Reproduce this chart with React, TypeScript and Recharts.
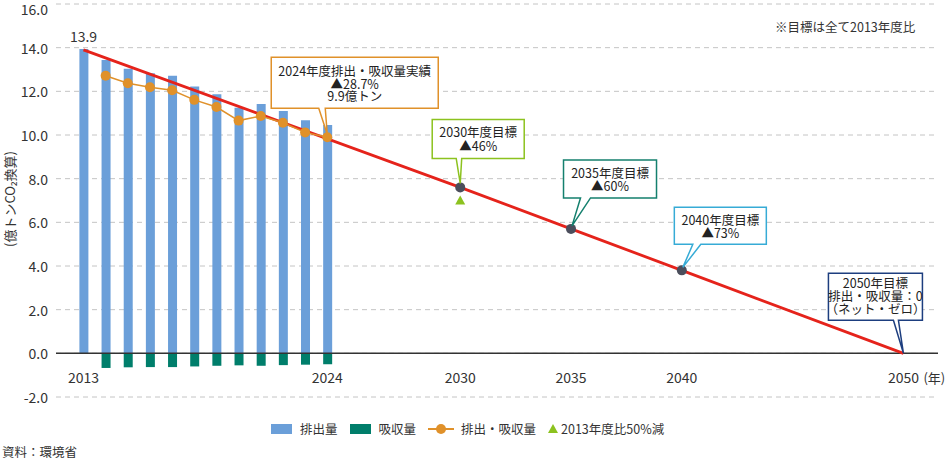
import { ComposedChart, Bar, Line, Scatter, XAxis, YAxis, CartesianGrid, ReferenceLine, ReferenceDot } from 'recharts';

const FONT = '"Noto Sans CJK JP", "Noto Sans", sans-serif';

// 実績（2013〜2024年度）
const ACTUAL_YEARS = [2013, 2014, 2015, 2016, 2017, 2018, 2019, 2020, 2021, 2022, 2023, 2024];
const EMISSIONS = [13.94, 13.43, 13.03, 12.83, 12.71, 12.22, 11.87, 11.25, 11.42, 11.1, 10.67, 10.46];
const REMOVALS = [null, -0.67, -0.64, -0.63, -0.63, -0.6, -0.57, -0.55, -0.57, -0.54, -0.52, -0.5];
const NET = [null, 12.71, 12.37, 12.19, 12.05, 11.61, 11.28, 10.66, 10.87, 10.56, 10.12, 9.9];

// 目標経路
const PATH_YEARS = [2013, 2030, 2035, 2040, 2050];
const PATH = [13.9, 7.6, 5.7, 3.8, 0];
const TARGET_YEARS = [2030, 2035, 2040];
const TARGETS = [7.6, 5.7, 3.8];
const HALF_YEAR = [2030];
const HALF = [7.0];

const X_TICKS = [2013, 2024, 2030, 2035, 2040, 2050];
const Y_TICKS = [-2, 0, 2, 4, 6, 8, 10, 12, 14, 16];

const COLORS = {
  emission: '#6B9FD9',
  removal: '#007E6B',
  net: '#E0912A',
  path: '#E5231B',
  target: '#4B4E5C',
  half: '#8CC21F',
};

const allYears = Array.from(new Set([...ACTUAL_YEARS, ...PATH_YEARS])).sort((a, b) => a - b);
const data = allYears.map((year) => {
  const i = ACTUAL_YEARS.indexOf(year);
  const p = PATH_YEARS.indexOf(year);
  return {
    year,
    emission: i >= 0 ? EMISSIONS[i] : null,
    removal: i >= 0 ? REMOVALS[i] : null,
    net: i >= 0 ? NET[i] : null,
    path: p >= 0 ? PATH[p] : null,
  };
});
const targetData = TARGET_YEARS.map((year, i) => ({ year, v: TARGETS[i] }));
const halfData = HALF_YEAR.map((year, i) => ({ year, v: HALF[i] }));

type Box = { dx: number; dy: number; w: number; h: number; p1: number; p2: number; tx: number; ty: number; rows: number[] };

const CALLOUTS: { year: number; value: number; color: string; lines: string[]; box: Box }[] = [
  {
    year: 2024, value: NET[NET.length - 1] as number, color: '#E0912A',
    lines: ['2024年度排出・吸収量実績', '▲28.7%', '9.9億トン'],
    box: { dx: -56, dy: -80, w: 167, h: 51, p1: -8.5, p2: -2, tx: 0, ty: -3, rows: [13, 26, 38.5] },
  },
  {
    year: 2030, value: TARGETS[0], color: '#8CC21F',
    lines: ['2030年度目標', '▲46%'],
    box: { dx: -28, dy: -68, w: 92, h: 39, p1: -4, p2: 1.5, tx: 0, ty: -4, rows: [12.5, 26.5] },
  },
  {
    year: 2035, value: TARGETS[1], color: '#14806E',
    lines: ['2035年度目標', '▲60%'],
    box: { dx: -7.5, dy: -69, w: 93, h: 38, p1: 9.5, p2: 19.5, tx: 1, ty: -3, rows: [12.5, 26] },
  },
  {
    year: 2040, value: TARGETS[2], color: '#36ABD6',
    lines: ['2040年度目標', '▲73%'],
    box: { dx: -7.5, dy: -63, w: 92, h: 37, p1: 11, p2: 19, tx: 1, ty: -3, rows: [12, 25] },
  },
  {
    year: 2050, value: PATH[PATH.length - 1], color: '#1D3E7F',
    lines: ['2050年目標', '排出・吸収量：0', '（ネット・ゼロ）'],
    box: { dx: -75, dy: -80, w: 94, h: 47, p1: -10, p2: -5, tx: 0, ty: 0, rows: [9.5, 22.5, 35.5] },
  },
];

function Callout({ cx, cy, color, lines, box }: any) {
  const left = cx + box.dx;
  const top = cy + box.dy;
  const bottom = top + box.h;
  const d = `M${left},${top} H${left + box.w} V${bottom} H${cx + box.p2} L${cx + box.tx},${cy + box.ty} L${cx + box.p1},${bottom} H${left} Z`;
  return (
    <g>
      <path d={d} fill="#fff" stroke={color} strokeWidth={1.5} strokeLinejoin="miter" />
      {lines.map((t: string, i: number) => (
        <text
          key={i}
          x={left + box.w / 2}
          y={top + box.rows[i]}
          textAnchor="middle"
          dominantBaseline="central"
          fontSize={12.5}
          fontFamily={FONT}
          fill="#222"
        >
          {t}
        </text>
      ))}
    </g>
  );
}

function YearTick({ x, y, payload }: any) {
  const ty = y - 28;
  return (
    <g>
      <text x={x} y={ty} textAnchor="middle" dominantBaseline="central" fontSize={14} fontFamily={FONT} fill="#333">
        {payload.value}
      </text>
      {payload.value === 2050 && (
        <text x={x + 20} y={ty} textAnchor="start" dominantBaseline="central" fontSize={13} fontFamily={FONT} fill="#333">
          (年)
        </text>
      )}
    </g>
  );
}

function ValueTick({ x, y, payload }: any) {
  // 最上段のラベルが上端で切れないよう少しだけ下げる
  const ty = Math.max(y, 8);
  return (
    <text x={x} y={ty} textAnchor="end" dominantBaseline="central" fontSize={14} fontFamily={FONT} fill="#333">
      {Number(payload.value).toFixed(1)}
    </text>
  );
}

function Triangle({ cx, cy }: any) {
  return <path d={`M${cx},${cy - 5} L${cx + 5},${cy + 4} L${cx - 5},${cy + 4} Z`} fill={COLORS.half} />;
}

function TargetDot({ cx, cy }: any) {
  return <circle cx={cx} cy={cy} r={5} fill={COLORS.target} />;
}

const legendText = { fontSize: 12.5, color: '#333', marginLeft: 8, marginRight: 12 };

function ChartLegend() {
  return (
    <div style={{ position: 'absolute', top: 419, left: 271, display: 'flex', alignItems: 'center', fontFamily: FONT }}>
      <span style={{ width: 21, height: 10, background: COLORS.emission }} />
      <span style={legendText}>排出量</span>
      <span style={{ width: 21, height: 10, background: COLORS.removal }} />
      <span style={legendText}>吸収量</span>
      <svg width={26} height={12}>
        <line x1={0} y1={6} x2={26} y2={6} stroke={COLORS.net} strokeWidth={2} />
        <circle cx={13} cy={6} r={5} fill={COLORS.net} />
      </svg>
      <span style={{ ...legendText, marginLeft: 7 }}>排出・吸収量</span>
      <svg width={10} height={10}>
        <path d="M5,0 L10,9 L0,9 Z" fill={COLORS.half} />
      </svg>
      <span style={{ ...legendText, marginLeft: 3 }}>2013年度比50%減</span>
    </div>
  );
}

export default function App() {
  return (
    <div style={{ position: 'relative', width: 946, height: 460, background: '#fff', fontFamily: FONT }}>
      <style>{'body{margin:0}'}</style>
      <ComposedChart
        width={946}
        height={460}
        data={data}
        stackOffset="sign"
        margin={{ top: 4, right: 8, left: 0, bottom: 33 }}
      >
        <CartesianGrid vertical={false} stroke="#c4c4c4" strokeDasharray="5 4" />
        <XAxis
          dataKey="year"
          type="number"
          domain={[2011.76, 2051.56]}
          ticks={X_TICKS}
          tick={<YearTick />}
          axisLine={false}
          tickLine={false}
          height={30}
          allowDataOverflow
        />
        <YAxis
          type="number"
          domain={[-2, 16]}
          ticks={Y_TICKS}
          width={56}
          axisLine={false}
          tickLine={false}
          tick={<ValueTick />}
          label={{
            content: () => (
              <text x={9} y={199} transform="rotate(-90 9 199)" textAnchor="middle" dominantBaseline="central" fontSize={13} fontFamily={FONT} fill="#333">
                (億トンCO₂換算)
              </text>
            ),
          }}
        />
        <Bar dataKey="emission" stackId="a" barSize={9} fill={COLORS.emission} isAnimationActive={false} />
        <Bar dataKey="removal" stackId="a" barSize={9} fill={COLORS.removal} isAnimationActive={false} />
        <ReferenceLine y={0} stroke="#333" strokeWidth={1.5} />
        <Line
          dataKey="path"
          stroke={COLORS.path}
          strokeWidth={2.8}
          dot={false}
          connectNulls
          isAnimationActive={false}
        />
        <Line
          dataKey="net"
          stroke={COLORS.net}
          strokeWidth={1.5}
          dot={{ r: 5, fill: COLORS.net, stroke: 'none' }}
          isAnimationActive={false}
        />
        <Scatter data={targetData} dataKey="v" shape={<TargetDot />} isAnimationActive={false} />
        <Scatter data={halfData} dataKey="v" shape={<Triangle />} isAnimationActive={false} />
        <ReferenceDot
          x={PATH_YEARS[0]}
          y={PATH[0]}
          r={0}
          label={{ value: PATH[0].toFixed(1), position: 'top', offset: 8, fontSize: 14, fill: '#333', fontFamily: FONT }}
        />
        {CALLOUTS.map((c) => (
          <ReferenceDot
            key={c.year}
            x={c.year}
            y={c.value}
            r={0}
            shape={(p: any) => <Callout cx={p.cx} cy={p.cy} color={c.color} lines={c.lines} box={c.box} />}
          />
        ))}
      </ComposedChart>
      <div style={{ position: 'absolute', top: 19, left: 775, fontSize: 12.5, lineHeight: '16px', color: '#333' }}>※目標は全て2013年度比</div>
      <ChartLegend />
      <div style={{ position: 'absolute', top: 444, left: 2, fontSize: 12.5, lineHeight: '15px', color: '#333' }}>資料：環境省</div>
    </div>
  );
}
